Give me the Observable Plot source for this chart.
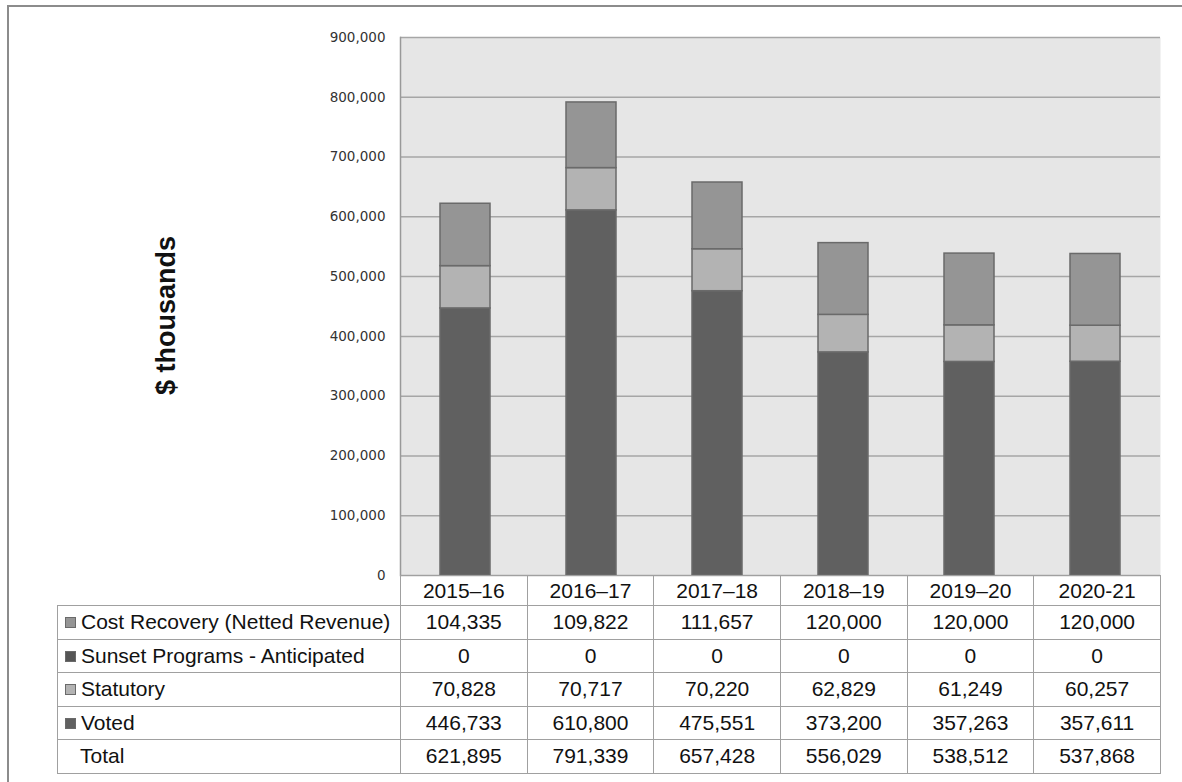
<!DOCTYPE html>
<html><head><meta charset="utf-8">
<script src="https://cdn.jsdelivr.net/npm/d3@7"></script>
<script src="https://cdn.jsdelivr.net/npm/@observablehq/plot@0.6"></script>
<style>
body{margin:0;background:#fff;}
#wrap{position:relative;width:1182px;height:782px;overflow:hidden;font-family:"Liberation Sans",Arial,sans-serif;}
#border{position:absolute;left:7px;top:5px;right:0;bottom:-4px;border-top:2px solid #8c8c8c;border-left:2px solid #8c8c8c;}
#chart{position:absolute;left:0;top:0;}
table{position:absolute;border-collapse:collapse;table-layout:fixed;font-size:21px;color:#111;}
td{border:1px solid #a0a0a0;text-align:center;padding:0;white-space:nowrap;overflow:hidden;}
td.lab{text-align:left;padding-left:7px;}
td.empty{border:none;}
.sw{display:inline-block;width:9px;height:9px;border:1px solid #6a6a6a;margin-right:5px;vertical-align:1px;}
</style></head><body><div id="wrap"><div id="border"></div><div id="chart"></div></div>
<script>
const years = ["2015\u201316","2016\u201317","2017\u201318","2018\u201319","2019\u201320","2020-21"];
const costRecovery = [104335,109822,111657,120000,120000,120000];
const sunset = [0,0,0,0,0,0];
const statutory = [70828,70717,70220,62829,61249,60257];
const voted = [446733,610800,475551,373200,357263,357611];
const totals = [621895,791339,657428,556029,538512,537868];
const seriesNames = ["Voted","Statutory","Sunset Programs - Anticipated","Cost Recovery (Netted Revenue)"];
const seriesColors = ["#606060","#b3b3b3","#555555","#959595"];
const yTicks = [0,100000,200000,300000,400000,500000,600000,700000,800000,900000];
const yLabel = "$ thousands";

const seriesValues = [voted, statutory, sunset, costRecovery];
const data = [];
seriesNames.forEach((s,i)=>years.forEach((yr,j)=>data.push({year:yr, series:s, value:seriesValues[i][j]})));

const chart = Plot.plot({
  width:1182, height:782,
  marginLeft:400, marginRight:22, marginTop:37, marginBottom:207,
  style:{fontFamily:"'DejaVu Sans'", fontSize:"13.5px", color:"#333", background:"transparent", overflow:"visible"},
  x:{domain:years, paddingInner:0.6, paddingOuter:0.3, axis:null},
  y:{domain:[0,900000], axis:null},
  color:{domain:seriesNames, range:seriesColors},
  marks:[
    Plot.frame({fill:"#e6e6e6", stroke:null}),
    Plot.gridY(yTicks, {stroke:"#a6a6a6", strokeOpacity:1, strokeWidth:1.5}),
    Plot.frame({anchor:"left", stroke:"#999999", strokeWidth:1.5}),
    Plot.barY(data, {x:"year", y:"value", fill:"series", stroke:"#6a6a6a", strokeWidth:1.5, order:seriesNames}),
    Plot.axisY(yTicks, {label:null, tickSize:0, tickPadding:15, tickFormat:d3.format(","), fill:"#333"}),
    Plot.text([yLabel], {frameAnchor:"left", textAnchor:"middle", dx:-234, dy:9, rotate:-90, fontWeight:"bold", fontSize:27, fontFamily:"'Liberation Sans'", fill:"#111"})
  ]
});
document.getElementById("chart").appendChild(chart);

// data table aligned to the plot's x scale
const xs = chart.scale("x");
const left0 = 57;
const firstW = xs.range[0] - left0;
const colW = (xs.range[1]-xs.range[0]) / years.length;
const table = document.createElement("table");
table.style.left = left0 + "px";
table.style.top = (782-207) + "px";
table.style.width = (firstW + colW*years.length) + "px";
const cg = document.createElement("colgroup");
[firstW, ...years.map(()=>colW)].forEach(w=>{const c=document.createElement("col"); c.style.width=w+"px"; cg.appendChild(c);});
table.appendChild(cg);
const fmt = d3.format(",");
const hdr = table.insertRow();
hdr.style.height = "30px";
const e = hdr.insertCell(); e.className = "empty";
years.forEach(yr=>{const c=hdr.insertCell(); c.textContent=yr;});
const rows = [
  {name:seriesNames[3], color:seriesColors[3], vals:costRecovery},
  {name:seriesNames[2], color:seriesColors[2], vals:sunset},
  {name:seriesNames[1], color:seriesColors[1], vals:statutory},
  {name:seriesNames[0], color:seriesColors[0], vals:voted},
  {name:"Total", color:null, vals:totals}
];
rows.forEach(r=>{
  const tr = table.insertRow();
  tr.style.height = "33.5px";
  const lc = tr.insertCell(); lc.className = "lab";
  if (r.color) { const sw=document.createElement("span"); sw.className="sw"; sw.style.background=r.color; lc.appendChild(sw); }
  else lc.style.paddingLeft = "22px";
  lc.appendChild(document.createTextNode(r.name));
  r.vals.forEach(v=>{const c=tr.insertCell(); c.textContent=fmt(v);});
});
document.getElementById("wrap").appendChild(table);
</script>
</body></html>
